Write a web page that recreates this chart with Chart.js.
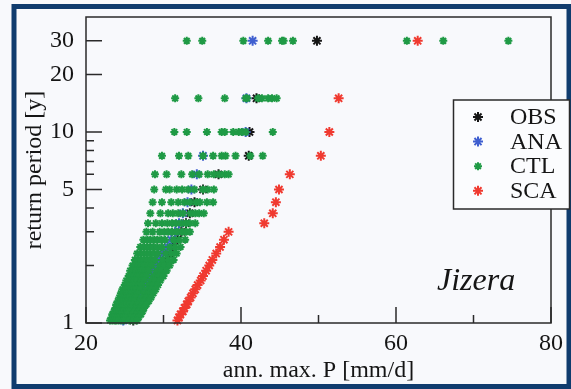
<!DOCTYPE html>
<html>
<head>
<meta charset="utf-8">
<script src="https://cdn.jsdelivr.net/npm/chart.js"></script>
<style>
  html, body { margin: 0; padding: 0; background: #f8f9fc; }
  #wrap { width: 571px; height: 389px; }
</style>
</head>
<body>
<div id="wrap"><canvas id="chart" width="571" height="389"></canvas></div>
<script>
// return period of each rank (29 years of annual maxima)
const returnPeriod = [30, 15, 10, 7.5, 6, 5, 4.29, 3.75, 3.33, 3, 2.73, 2.5, 2.31, 2.14, 2,
    1.88, 1.76, 1.67, 1.58, 1.5, 1.43, 1.36, 1.3, 1.25, 1.2, 1.15, 1.11, 1.07, 1.03];

const obs = [49.8, 42.0, 41.1, 41.0, 37.1, 35.1, 34.0, 33.4, 32.9, 32.3, 31.8, 31.2, 30.8, 30.3, 29.9,
    29.6, 29.2, 28.9, 28.6, 28.3, 28.0, 27.7, 27.4, 27.2, 27.0, 26.7, 26.5, 26.3, 26.1];
const ana = [41.5, 40.7, 40.6, 35.1, 34.3, 33.6, 33.1, 32.5, 32.0, 31.5, 31.0, 30.5, 30.0, 29.5, 29.1,
    28.7, 28.3, 27.9, 27.6, 27.3, 27.0, 26.7, 26.4, 26.1, 25.8, 25.6, 25.3, 25.1, 24.8];
const sca = [62.8, 52.6, 51.4, 50.3, 46.3, 44.9, 44.5, 44.1, 43.0, 38.4, 37.8, 37.3, 36.8, 36.3, 35.9,
    35.5, 35.1, 34.8, 34.4, 34.1, 33.8, 33.5, 33.2, 33.0, 32.7, 32.5, 32.2, 32.0, 31.8];

// CTL ensemble: one row per return period, 10 runs each
const ctl = [
    [33.0, 35.0, 40.3, 43.5, 45.3, 45.5, 46.7, 61.4, 66.1, 74.5],
    [31.5, 34.5, 37.9, 40.6, 40.8, 42.2, 42.7, 43.5, 44.0, 44.6],
    [31.4, 33.0, 35.6, 37.5, 37.9, 39.0, 39.7, 40.1, 40.6, 44.1],
    [29.8, 32.0, 33.2, 35.1, 36.4, 37.5, 38.0, 39.3, 41.2, 42.8],
    [28.9, 30.4, 32.3, 33.7, 34.6, 35.7, 36.5, 37.2, 37.9, 38.4],
    [28.8, 30.3, 30.8, 31.7, 32.4, 33.2, 34.0, 35.1, 35.7, 36.5],
    [28.6, 29.8, 31.0, 31.9, 32.7, 33.4, 34.2, 34.7, 35.6, 36.4],
    [28.3, 29.6, 30.6, 31.2, 31.9, 32.5, 33.5, 34.1, 34.6, 35.2],
    [28.0, 29.0, 29.8, 30.5, 31.1, 31.6, 32.3, 32.9, 33.4, 34.1],
    [27.8, 28.6, 29.5, 30.1, 30.6, 31.1, 31.7, 32.4, 32.9, 33.4],
    [27.4, 27.9, 28.3, 28.8, 29.2, 29.7, 30.2, 31.3, 32.0, 32.8],
    [27.0, 27.5, 27.9, 28.3, 28.7, 29.2, 29.8, 30.8, 31.5, 32.2],
    [26.6, 27.1, 27.5, 27.9, 28.3, 28.8, 29.3, 30.3, 31.0, 31.7],
    [26.3, 26.7, 27.1, 27.5, 27.9, 28.4, 28.9, 29.9, 30.6, 31.3],
    [26.0, 26.4, 26.8, 27.2, 27.6, 28.0, 28.5, 29.5, 30.1, 30.8],
    [25.7, 26.1, 26.5, 26.9, 27.2, 27.7, 28.1, 29.1, 29.7, 30.4],
    [25.5, 25.8, 26.2, 26.6, 26.9, 27.4, 27.8, 28.7, 29.4, 30.0],
    [25.2, 25.6, 25.9, 26.3, 26.6, 27.1, 27.5, 28.4, 29.0, 29.6],
    [25.0, 25.3, 25.7, 26.0, 26.4, 26.8, 27.2, 28.1, 28.7, 29.3],
    [24.7, 25.1, 25.4, 25.8, 26.1, 26.5, 27.0, 27.8, 28.4, 29.0],
    [24.5, 24.9, 25.2, 25.5, 25.9, 26.3, 26.7, 27.5, 28.1, 28.7],
    [24.3, 24.6, 25.0, 25.3, 25.6, 26.0, 26.4, 27.2, 27.8, 28.4],
    [24.1, 24.4, 24.8, 25.1, 25.4, 25.8, 26.2, 27.0, 27.5, 28.1],
    [23.9, 24.2, 24.6, 24.9, 25.2, 25.6, 26.0, 26.7, 27.3, 27.8],
    [23.8, 24.1, 24.4, 24.7, 25.0, 25.4, 25.8, 26.5, 27.0, 27.5],
    [23.6, 23.9, 24.2, 24.5, 24.8, 25.2, 25.5, 26.3, 26.8, 27.3],
    [23.4, 23.7, 24.0, 24.3, 24.6, 25.0, 25.3, 26.0, 26.6, 27.1],
    [23.3, 23.5, 23.8, 24.1, 24.4, 24.8, 25.1, 25.8, 26.3, 26.8],
    [23.1, 23.4, 23.7, 23.9, 24.2, 24.6, 24.9, 25.6, 26.1, 26.6]
];

const seriesNames = ['OBS', 'ANA', 'CTL', 'SCA'];
const xLabelTicks = [20, 40, 60, 80];
const xMinorTicks = [30, 50, 70];
const yLabelTicks = [1, 5, 10, 20, 30];
const yMinorTicks = [2, 3, 4, 6, 7, 8, 9];
const xTitle = 'ann. max. P [mm/d]';
const yTitle = 'return period [y]';
const panelName = 'Jizera';

const colors = {
    OBS: '#151515',
    ANA: '#3f5fd0',
    CTL: '#1f9a45',
    SCA: '#f03a30'
};
const serif = 'Liberation Serif, Times New Roman, serif';

function pairs(values) {
    return values.map((v, i) => ({ x: v, y: returnPeriod[i] }));
}
const ctlPoints = [];
ctl.forEach((row, i) => row.forEach(v => ctlPoints.push({ x: v, y: returnPeriod[i] })));

function drawStar(ctx, x, y, r, color, lw) {
    ctx.save();
    ctx.strokeStyle = color;
    ctx.lineWidth = lw;
    ctx.beginPath();
    for (let k = 0; k < 4; k++) {
        const a = k * Math.PI / 4;
        ctx.moveTo(x - Math.cos(a) * r, y - Math.sin(a) * r);
        ctx.lineTo(x + Math.cos(a) * r, y + Math.sin(a) * r);
    }
    ctx.stroke();
    ctx.restore();
}

// no extra label padding, so the plot area sits where the layout puts it
function noPadding(s) {
    s.paddingTop = 0;
    s.paddingBottom = 0;
    s.paddingLeft = 0;
    s.paddingRight = 0;
}

const decor = {
    id: 'decor',
    beforeDraw(chart) {
        const ctx = chart.ctx;
        ctx.save();
        ctx.fillStyle = '#f8f9fc';
        ctx.fillRect(0, 0, chart.width, chart.height);
        ctx.strokeStyle = '#103c6e';
        ctx.lineWidth = 5;
        ctx.strokeRect(14, 6.5, 555, 380);
        ctx.restore();
    },
    afterDraw(chart) {
        const ctx = chart.ctx;
        const a = chart.chartArea;
        const xs = chart.scales.x, ys = chart.scales.y;
        ctx.save();
        ctx.strokeStyle = '#2a2a2a';
        ctx.lineWidth = 1.5;
        ctx.strokeRect(a.left, a.top, a.right - a.left, a.bottom - a.top);
        ctx.beginPath();
        xLabelTicks.forEach(v => {
            const px = xs.getPixelForValue(v);
            ctx.moveTo(px, a.bottom); ctx.lineTo(px, a.bottom - 16);
        });
        xMinorTicks.forEach(v => {
            const px = xs.getPixelForValue(v);
            ctx.moveTo(px, a.bottom); ctx.lineTo(px, a.bottom - 8);
        });
        yLabelTicks.forEach(v => {
            const py = ys.getPixelForValue(v);
            ctx.moveTo(a.left, py); ctx.lineTo(a.left + 16, py);
        });
        yMinorTicks.forEach(v => {
            const py = ys.getPixelForValue(v);
            ctx.moveTo(a.left, py); ctx.lineTo(a.left + 8, py);
        });
        ctx.stroke();

        // panel name
        ctx.fillStyle = '#151515';
        ctx.font = 'italic 32px ' + serif;
        ctx.textBaseline = 'alphabetic';
        ctx.fillText(panelName, 437, 290);

        // legend box
        ctx.fillStyle = '#fbfcfe';
        ctx.fillRect(453.5, 100, 116, 109);
        ctx.strokeStyle = '#2a2a2a';
        ctx.lineWidth = 1.5;
        ctx.strokeRect(453.5, 100, 116, 109);
        ctx.font = '24px ' + serif;
        ctx.textBaseline = 'middle';
        seriesNames.forEach((name, i) => {
            const y = 117 + i * 24.6;
            drawStar(ctx, 478, y, name === 'CTL' ? 4 : 5, colors[name], 2);
            ctx.fillStyle = '#151515';
            ctx.fillText(name, 510, y + 1);
        });
        ctx.restore();
    }
};

function ds(label, data, radius, order) {
    return {
        label: label,
        data: data,
        order: order,
        showLine: false,
        clip: false,
        pointStyle: 'star',
        pointRadius: radius,
        pointBorderWidth: 2,
        borderColor: colors[label],
        backgroundColor: colors[label]
    };
}

new Chart(document.getElementById('chart').getContext('2d'), {
    type: 'scatter',
    data: {
        datasets: [
            ds('OBS', pairs(obs), 5, 3),
            ds('ANA', pairs(ana), 5, 2),
            ds('CTL', ctlPoints, 4, 0),
            ds('SCA', pairs(sca), 5, 1)
        ]
    },
    options: {
        responsive: false,
        animation: false,
        layout: { padding: { top: 17, right: 20, left: 0, bottom: 0 } },
        plugins: {
            legend: { display: false },
            tooltip: { enabled: false }
        },
        scales: {
            x: {
                type: 'linear',
                min: 20,
                max: 80,
                afterBuildTicks: s => { s.ticks = xLabelTicks.map(v => ({ value: v })); },
                afterFit: s => { s.height = 66; noPadding(s); },
                grid: { display: false, drawTicks: false },
                border: { display: false },
                ticks: { color: '#151515', font: { family: serif, size: 24 }, padding: 6, maxRotation: 0, autoSkip: false },
                title: { display: true, text: xTitle, color: '#151515', font: { family: serif, size: 24 }, padding: { top: 0, bottom: 4 } }
            },
            y: {
                type: 'logarithmic',
                min: 1,
                max: 40,
                afterBuildTicks: s => { s.ticks = yLabelTicks.map(v => ({ value: v })); },
                afterFit: s => { s.width = 86; noPadding(s); },
                grid: { display: false, drawTicks: false },
                border: { display: false },
                ticks: { color: '#151515', font: { family: serif, size: 24 }, padding: 12, autoSkip: false, callback: v => String(v) },
                title: { display: true, text: yTitle, color: '#151515', font: { family: serif, size: 24 }, padding: { top: 20, bottom: 0 } }
            }
        }
    },
    plugins: [decor]
});
</script>
</body>
</html>
